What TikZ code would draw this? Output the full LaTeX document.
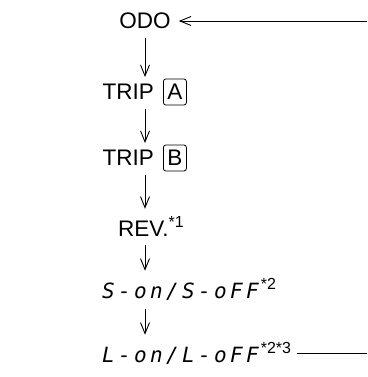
\documentclass[tikz,border=0pt]{standalone}
\usepackage{fontspec}
\setmainfont{Liberation Sans}
\newfontfamily\segfont[LetterSpace=16]{DejaVu Sans Mono}
\usetikzlibrary{arrows.meta,positioning}
\newcommand\fnmark[1]{\raisebox{9pt}{\upshape\rmfamily\fontsize{16}{16}\selectfont #1}}

\begin{document}
\begin{tikzpicture}[x=1pt,y=-1pt,
  every node/.style={font=\fontsize{22.5}{26}\selectfont,inner sep=0pt},
  keybox/.style={draw,rounded corners=2.5pt,line width=0.8pt,
                 minimum width=23pt,minimum height=26pt},
  seg/.style={font=\fontsize{21}{25}\selectfont\segfont\itshape,anchor=west},
  arr/.style={-{Straight Barb[length=11pt,width=9pt]},line width=0.9pt,
              shorten <=9pt,shorten >=7pt},
  ret/.style={line width=0.9pt}
]
  \useasboundingbox (0,0) rectangle (367,377);

  \node (odo) at (145,21) {ODO};
  \node[anchor=east] (tripA) at (154,92) {TRIP};
  \node[keybox,right=9pt of tripA] (keyA) {A};
  \node[anchor=east] (tripB) at (154,158) {TRIP};
  \node[keybox,right=9pt of tripB] (keyB) {B};
  \node (rev) at (151,226) {REV.\fnmark{*1}};
  \node[seg] (son) at (102,289) {S-on/S-oFF\hspace{2pt}\fnmark{*2}};
  \node[seg] (lon) at (102,353) {L-on/L-oFF\hspace{2pt}\fnmark{*2*3}};

  \coordinate (loopTop) at (367,21);

  % main sequence
  \draw[arr] (odo.south) -- (odo.south |- tripA.north);
  \draw[arr] (odo.south |- tripA.south) -- (odo.south |- tripB.north);
  \draw[arr] (odo.south |- tripB.south) -- (odo.south |- rev.north);
  \draw[arr] (odo.south |- rev.south) -- (odo.south |- son.north);
  \draw[arr] (odo.south |- son.south) -- (odo.south |- lon.north);

  % back to ODO
  \draw[ret,shorten <=6pt] (lon.east) -- (lon.east -| loopTop);
  \draw[arr,shorten <=0pt,shorten >=8pt] (loopTop) -- (odo.east);
\end{tikzpicture}
\end{document}
